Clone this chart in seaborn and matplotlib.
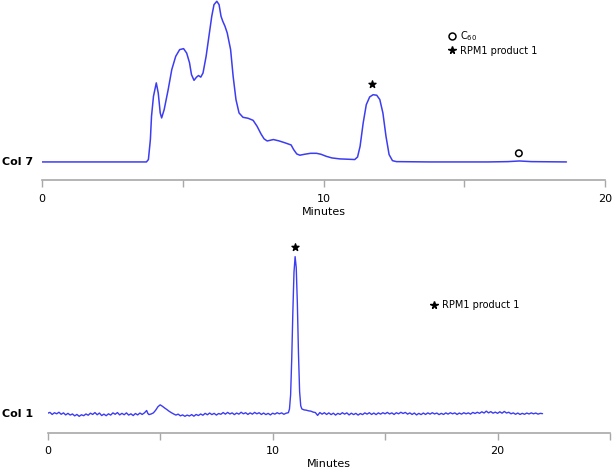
import matplotlib
matplotlib.use("Agg")
import matplotlib.pyplot as plt
import matplotlib.transforms as mtransforms
from matplotlib.lines import Line2D
import seaborn as sns

# Col 7 chromatogram (minutes, signal)
col7_minutes = [0.0, 3.71, 3.78, 3.85, 3.89, 3.96, 4.06, 4.13, 4.20, 4.25, 4.34, 4.48, 4.61,
                4.75, 4.89, 5.03, 5.14, 5.24, 5.31, 5.40, 5.49, 5.56, 5.64, 5.72, 5.83, 5.93,
                6.03, 6.11, 6.21, 6.29, 6.36, 6.42, 6.50, 6.58, 6.70, 6.79, 6.89, 7.00, 7.14,
                7.32, 7.50, 7.64, 7.78, 7.89, 8.00, 8.22, 8.43, 8.64, 8.85, 8.94, 9.05, 9.16,
                9.33, 9.54, 9.75, 9.91, 10.10, 10.30, 10.58, 10.86, 11.11, 11.21, 11.30, 11.41,
                11.52, 11.64, 11.76, 11.89, 12.00, 12.11, 12.22, 12.33, 12.45, 12.59, 13.77,
                15.85, 16.55, 16.96, 17.38, 18.63]
col7_signal = [0.0, 0.0, 1.5, 14.0, 28.5, 41.0, 49.4, 43.0, 30.6, 27.5, 32.7, 45.0, 57.7,
               66.0, 70.2, 70.8, 68.0, 62.0, 54.6, 51.0, 53.0, 54.0, 53.0, 55.6, 66.0, 78.5,
               91.0, 98.3, 100.4, 98.3, 91.0, 88.0, 84.8, 80.6, 70.2, 53.5, 39.0, 30.6, 27.9,
               27.3, 26.0, 22.3, 17.5, 14.4, 13.1, 14.0, 13.1, 11.9, 10.6, 7.7, 5.0, 4.2,
               4.8, 5.4, 5.4, 4.8, 3.5, 2.5, 1.9, 1.7, 1.5, 3.1, 9.8, 24.4,
               35.8, 40.6, 42.0, 41.7, 39.0, 30.6, 16.0, 4.6, 0.8, 0.2, 0.0,
               0.0, 0.2, 0.6, 0.2, 0.0]
col7_product_minutes = [11.72]
col7_c60_minutes = [16.94]

# Col 1 chromatogram (minutes, signal)
col1_minutes = [
    0.0, 0.1, 0.2, 0.3, 0.4, 0.5, 0.6, 0.7, 0.8, 0.9, 1.0, 1.1, 1.2, 1.3, 1.4, 1.5, 1.6, 1.7,
    1.8, 1.9, 2.0, 2.1, 2.2, 2.3, 2.4, 2.5, 2.6, 2.7, 2.8, 2.9, 3.0, 3.1, 3.2, 3.3, 3.4, 3.5,
    3.6, 3.7, 3.8, 3.9, 4.0, 4.1, 4.2, 4.3, 4.4, 4.45, 4.5, 4.6, 4.7, 4.8, 4.9, 5.0, 5.1, 5.2,
    5.3, 5.4, 5.5, 5.6, 5.7, 5.8, 5.9, 6.0, 6.1, 6.2, 6.3, 6.4, 6.5, 6.6, 6.7, 6.8, 6.9, 7.0,
    7.1, 7.2, 7.3, 7.4, 7.5, 7.6, 7.7, 7.8, 7.9, 8.0, 8.1, 8.2, 8.3, 8.4, 8.5, 8.6, 8.7, 8.8,
    8.9, 9.0, 9.1, 9.2, 9.3, 9.4, 9.5, 9.6, 9.7, 9.8, 9.9, 10.0, 10.1, 10.2, 10.3, 10.4, 10.5,
    10.6, 10.7, 10.75, 10.8, 10.85, 10.9, 10.95, 11.0, 11.05, 11.1, 11.15, 11.2, 11.25, 11.3,
    11.4, 11.5, 11.6, 11.7, 11.8, 11.9, 12.0, 12.1, 12.2, 12.3, 12.4, 12.5, 12.6, 12.7, 12.8,
    12.9, 13.0, 13.1, 13.2, 13.3, 13.4, 13.5, 13.6, 13.7, 13.8, 13.9, 14.0, 14.1, 14.2, 14.3,
    14.4, 14.5, 14.6, 14.7, 14.8, 14.9, 15.0, 15.1, 15.2, 15.3, 15.4, 15.5, 15.6, 15.7, 15.8,
    15.9, 16.0, 16.1, 16.2, 16.3, 16.4, 16.5, 16.6, 16.7, 16.8, 16.9, 17.0, 17.1, 17.2, 17.3,
    17.4, 17.5, 17.6, 17.7, 17.8, 17.9, 18.0, 18.1, 18.2, 18.3, 18.4, 18.5, 18.6, 18.7, 18.8,
    18.9, 19.0, 19.1, 19.2, 19.3, 19.4, 19.5, 19.6, 19.7, 19.8, 19.9, 20.0, 20.1, 20.2, 20.3,
    20.4, 20.5, 20.6, 20.7, 20.8, 20.9, 21.0, 21.1, 21.2, 21.3, 21.4, 21.5, 21.6, 21.7, 21.8,
    21.9, 22.0]
col1_signal = [
    0.3, 0.8, -0.5, 0.6, -0.1, 0.9, -0.4, 0.5, -0.8, 0.2, -0.9, -0.2, -1.4, -0.5, -1.7, -0.7, -1.3, -0.2,
    -1.0, 0.3, -0.5, 0.7, -0.7, 0.4, -1.2, -0.3, -1.3, -0.1, -0.9, 0.5, -0.4, 0.7, -0.8, 0.2, -0.7, 0.5,
    -0.9, -0.1, -1.2, 0.1, -0.8, 0.4, -0.5, 0.5, 2.0, 0.2, -0.6, -0.2, 0.5, 2.2, 4.4, 5.6, 4.7, 3.6,
    2.6, 1.5, 0.6, -0.2, -0.9, -0.3, -1.4, -0.8, -1.7, -0.9, -1.5, -0.6, -1.6, -0.5, -1.2, -0.2, -1.0, 0.2,
    -0.7, 0.4, -0.6, 0.2, -0.9, 0.1, -0.4, 0.7, -0.3, 0.8, -0.2, 0.5, -0.6, 0.4, -0.3, 0.9, -0.1, 0.6,
    -0.5, 0.5, -0.3, 0.8, -0.1, 0.6, -0.5, 0.4, -0.6, 0.2, -0.8, 0.3, -0.3, 0.6, -0.1, 0.5, -0.4,
    0.3, 0.6, 3.0, 12.0, 35.0, 65.0, 90.0, 100.0, 93.0, 70.0, 38.0, 14.0, 5.0, 3.0,
    2.4, 2.2, 1.8, 1.6, 1.0, 0.7, -1.1, 0.7, -0.3, 0.6, -0.5, 0.5, -0.6, 0.3, -0.9,
    0.2, -0.5, 0.6, -0.3, 0.5, -0.8, 0.3, -0.6, 0.2, -0.9, 0.1, -0.6, 0.5, -0.3, 0.6,
    -0.5, 0.4, -0.6, 0.5, -0.3, 0.6, -0.1, 0.8, -0.2, 0.5, -0.5, 0.6, -0.1, 0.9, 0.1,
    0.8, -0.3, 0.5, -0.5, 0.4, -0.8, 0.2, -0.6, 0.4, -0.5, 0.5, -0.3, 0.6, -0.2, 0.4,
    -0.6, 0.2, -0.5, 0.5, -0.3, 0.6, -0.1, 0.5, -0.5, 0.4, -0.3, 0.6, -0.1, 0.5, -0.3,
    0.8, 0.1, 0.9, 0.2, 1.2, 0.4, 1.6, 0.5, 1.3, 0.3, 1.0, 0.2, 1.2, 0.3, 1.4,
    0.4, 0.9, -0.1, 0.5, -0.4, 0.4, -0.5, 0.2, -0.4, 0.4, -0.2, 0.5, -0.1, 0.4, -0.3,
    0.2, 0.0]
col1_product_minutes = [11.0]

top_ticks = [0, 5, 10, 15, 20]
top_ticklabels = ['0', '', '10', '', '20']
bottom_ticks = [0, 5, 10, 15, 20, 25]
bottom_ticklabels = ['0', '', '10', '', '20', '']

LINE = '#3c3cf2'
GREY = '#a8a8a8'

sns.set_style('white')
plt.rcParams['font.family'] = ['DejaVu Sans']
plt.rcParams['mathtext.fontset'] = 'dejavusans'
plt.rcParams['text.color'] = 'black'
plt.rcParams['axes.labelcolor'] = 'black'
plt.rcParams['xtick.labelcolor'] = 'black'

fig = plt.figure(figsize=(6.14, 4.73), dpi=100)
ax_top = fig.add_axes([42 / 614, 1 - 180.5 / 473, 563 / 614, 180.5 / 473])
ax_bot = fig.add_axes([47.7 / 614, 1 - 432.5 / 473, 562.3 / 614, 192.5 / 473])


def style_axis(ax, ticks, labels, xmax, ylim):
    ax.set_xlim(0, xmax)
    ax.set_ylim(*ylim)
    for side in ['left', 'top', 'right']:
        ax.spines[side].set_visible(False)
    ax.spines['bottom'].set_color(GREY)
    ax.spines['bottom'].set_linewidth(1.2)
    ax.set_xticks(ticks)
    ax.set_xticklabels(labels, fontsize=8, color='black')
    ax.set_yticks([])
    ax.tick_params(axis='x', direction='out', length=5, width=1, color=GREY, pad=5, bottom=True)
    ax.set_xlabel('Minutes', fontsize=8, labelpad=2, color='black')
    ax.set_ylabel('')
    ax.patch.set_alpha(0)


def peak_height(minutes, signal, t):
    # signal value at the data point closest to t
    i = min(range(len(minutes)), key=lambda k: abs(minutes[k] - t))
    return signal[i]


# top panel
sns.lineplot(x=col7_minutes, y=col7_signal, ax=ax_top, color=LINE, linewidth=1.1,
             sort=False, estimator=None)
style_axis(ax_top, top_ticks, top_ticklabels, 20, (-11.6, 101.2))
ax_top.scatter(col7_product_minutes,
               [peak_height(col7_minutes, col7_signal, t) + 7 for t in col7_product_minutes],
               marker='*', s=28, color='black', zorder=3)
ax_top.scatter(col7_c60_minutes,
               [peak_height(col7_minutes, col7_signal, t) + 4.8 for t in col7_c60_minutes],
               marker='o', s=22, facecolor='none', edgecolor='black', linewidth=1.1, zorder=3)

# bottom panel
sns.lineplot(x=col1_minutes, y=col1_signal, ax=ax_bot, color=LINE, linewidth=1.0,
             sort=False, estimator=None)
style_axis(ax_bot, bottom_ticks, bottom_ticklabels, 25, (-12.0, 110.6))
ax_bot.scatter(col1_product_minutes,
               [peak_height(col1_minutes, col1_signal, t) + 6 for t in col1_product_minutes],
               marker='*', s=28, color='black', zorder=3)

# row labels
for ax, label in [(ax_top, 'Col 7'), (ax_bot, 'Col 1')]:
    trans = mtransforms.blended_transform_factory(fig.transFigure, ax.transData)
    ax.text(2 / 614, 0, label, transform=trans, fontsize=8, fontweight='bold',
            ha='left', va='center', color='black')

# legends
circle_key = Line2D([], [], ls='', marker='o', markersize=5, markerfacecolor='none',
                    markeredgecolor='black', markeredgewidth=1.1)
star_key = Line2D([], [], ls='', marker='*', markersize=5.5, color='black')

ax_top.legend([circle_key, star_key], [r'C$_{60}$', 'RPM1 product 1'], loc='upper left',
              bbox_to_anchor=(448 / 614, 1 - 29 / 473), bbox_transform=fig.transFigure,
              frameon=False, fontsize=7, handlelength=0.8, handletextpad=0.4,
              labelspacing=0.3, borderpad=0, borderaxespad=0, labelcolor='black')
ax_bot.legend([star_key], ['RPM1 product 1'], loc='upper left',
              bbox_to_anchor=(430.5 / 614, 1 - 300 / 473), bbox_transform=fig.transFigure,
              frameon=False, fontsize=7, handlelength=0.8, handletextpad=0.4,
              borderpad=0, borderaxespad=0, labelcolor='black')

fig.savefig('out.png', dpi=100)
plt.close(fig)
